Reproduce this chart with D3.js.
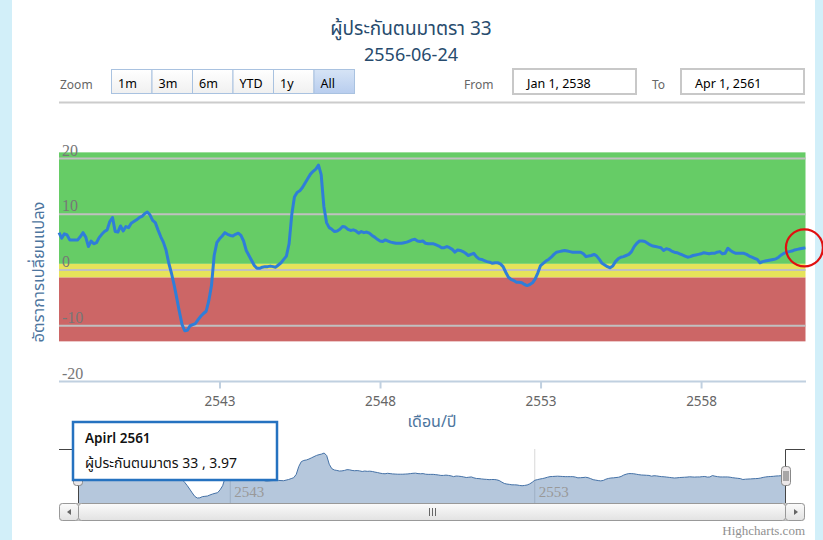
<!DOCTYPE html>
<html><head><meta charset="utf-8">
<script src="https://cdn.jsdelivr.net/npm/d3@7"></script>
<style>
body{margin:0;background:#d2eff9;overflow:hidden}
svg{display:block}
</style></head><body>
<svg id="c" width="823" height="540"></svg>
<script>
// ---------- data ----------
const titleText = "ผู้ประกันตนมาตรา 33";
const subtitleText = "2556-06-24";
const yTitleText = "อัตราการเปลี่ยนแปลง";
const xTitleText = "เดือน/ปี";
const startYear = 2538;           // series starts Jan 2538, monthly
const values = [
 6.7,5.7,6.5,6.3,5.4,5.4,5.4,5.4,6.0,6.7,5.9,4.2,
 5.2,4.7,4.9,5.8,6.4,6.9,7.2,8.7,9.4,6.9,6.8,7.9,
 7.0,7.8,7.6,8.4,8.7,9.0,9.4,9.6,10.1,10.4,9.9,8.9,
 8.5,7.2,6.0,5.0,3.6,1.3,-0.5,-2.6,-5.0,-7.5,-9.8,-10.9,
 -10.8,-10.0,-9.8,-9.6,-8.9,-8.3,-7.8,-7.4,-5.5,-2.8,2.6,4.9,
 5.6,6.1,6.7,6.4,6.2,6.1,6.4,6.6,6.2,5.2,3.5,2.6,
 1.7,0.8,0.3,0.3,0.5,0.6,0.6,0.7,0.6,0.5,0.9,1.3,
 1.9,2.5,4.7,9.9,13.1,13.9,14.2,14.8,15.6,16.4,17.2,17.7,
 18.1,18.8,17.1,11.4,8.5,7.6,7.3,6.9,7.0,7.3,7.8,7.7,
 7.3,7.1,7.2,7.0,6.6,6.9,6.7,6.8,6.6,6.2,5.9,5.5,
 5.2,5.1,5.4,5.2,5.0,4.9,4.8,4.8,4.8,4.9,5.0,5.2,
 5.4,5.5,5.2,5.1,5.2,4.8,4.7,4.7,4.7,4.5,4.3,4.0,
 4.0,4.2,4.0,3.7,3.2,3.6,3.5,3.3,3.0,2.6,2.8,3.0,
 2.4,2.0,1.9,1.7,1.5,1.4,1.2,1.3,1.3,1.1,0.6,-0.4,
 -1.3,-1.7,-1.9,-2.2,-2.2,-2.3,-2.6,-2.8,-2.6,-2.3,-1.6,-0.5,
 0.8,1.2,1.6,1.9,2.3,2.8,3.2,3.3,3.4,3.5,3.4,3.3,
 3.2,3.2,3.2,3.2,2.9,2.4,2.5,2.6,2.8,2.5,1.9,1.2,
 0.9,0.6,0.4,0.7,1.5,2.0,2.3,2.4,2.6,2.8,3.3,4.2,
 4.8,5.2,5.2,5.1,4.8,4.5,4.3,4.2,4.1,4.0,3.5,3.8,
 3.7,3.4,3.2,3.1,2.9,2.7,2.5,2.3,2.4,2.6,2.7,2.8,
 2.9,3.1,3.0,2.9,3.0,3.0,3.2,3.3,2.9,3.0,3.9,3.5,
 3.2,3.0,3.0,3.0,3.0,2.8,2.5,2.3,2.1,1.9,1.3,1.5,
 1.6,1.7,1.8,1.9,2.0,2.3,2.7,3.0,3.2,3.3,3.4,3.6,
 3.7,3.8,3.9,3.97
];
const yTicks = [20, 10, 0, -10, -20];
const xTicks = [2543, 2548, 2553, 2558];
const navTicks = [2543, 2553];
const bandFrom = [1.1, -1.35, -12.8];
const bandTo   = [21.1, 1.1, -1.35];
const zoomButtons = ["1m", "3m", "6m", "YTD", "1y", "All"];
const fromText = "Jan 1, 2538";
const toText = "Apr 1, 2561";
const tooltipLines = ["Apirl 2561", "ผู้ประกันตนมาตร 33 , 3.97"];
const creditText = "Highcharts.com";

// ---------- styles ----------
const thai = "'Noto Sans Thai','Noto Sans','DejaVu Sans',sans-serif";
const serif = "'Liberation Serif','DejaVu Serif',serif";
const bandColors = ["#66cc66", "#e6e35a", "#cc6666"];
const lineColor = "#2f7ed8";

const svg = d3.select("#c");
svg.append("rect").attr("x", 12).attr("y", 0).attr("width", 803).attr("height", 540).attr("fill", "#fff");

const dates = values.map((v, i) => startYear + i / 12);
const x = d3.scaleLinear().domain([startYear, dates[dates.length - 1]]).range([59, 805.4]);
const y = d3.scaleLinear().domain([-20, 20]).range([381.5, 158.5]);

// titles
svg.append("text").attr("x", 411).attr("y", 35).attr("text-anchor", "middle")
  .attr("font-family", thai).attr("font-size", 19).attr("fill", "#274b6d").text(titleText);
svg.append("text").attr("x", 411).attr("y", 61).attr("text-anchor", "middle")
  .attr("font-family", thai).attr("font-size", 18).attr("fill", "#274b6d").text(subtitleText);

// range selector
svg.append("text").attr("x", 60).attr("y", 89).attr("font-family", thai).attr("font-size", 12).attr("fill", "#666").text("Zoom");
const defs = svg.append("defs");
const g1 = defs.append("linearGradient").attr("id", "btn").attr("x1", 0).attr("y1", 0).attr("x2", 0).attr("y2", 1);
g1.append("stop").attr("offset", 0).attr("stop-color", "#ffffff");
g1.append("stop").attr("offset", 1).attr("stop-color", "#f0f0f0");
const g2 = defs.append("linearGradient").attr("id", "btnSel").attr("x1", 0).attr("y1", 0).attr("x2", 0).attr("y2", 1);
g2.append("stop").attr("offset", 0).attr("stop-color", "#d6e4f6");
g2.append("stop").attr("offset", 1).attr("stop-color", "#b8cdee");
const bx = d3.scaleBand().domain(zoomButtons).range([111, 354]);
zoomButtons.forEach((b, i) => {
  const sel = b === "All";
  svg.append("rect").attr("x", bx(b) + 0.5).attr("y", 69.5).attr("width", bx.bandwidth()).attr("height", 24)
    .attr("fill", sel ? "url(#btnSel)" : "url(#btn)").attr("stroke", "#a9c2e0").attr("stroke-width", 1);
  svg.append("text").attr("x", bx(b) + 7).attr("y", 88).attr("font-family", thai).attr("font-size", 12.5)
    .attr("fill", "#000").text(b);
});
svg.append("text").attr("x", 464).attr("y", 89).attr("font-family", thai).attr("font-size", 12).attr("fill", "#666").text("From");
svg.append("rect").attr("x", 513).attr("y", 69).attr("width", 123).attr("height", 25).attr("fill", "#fff").attr("stroke", "#c8c8c8").attr("stroke-width", 2);
svg.append("text").attr("x", 527).attr("y", 88).attr("font-family", thai).attr("font-size", 12.5).attr("fill", "#000").text(fromText);
svg.append("text").attr("x", 652).attr("y", 89).attr("font-family", thai).attr("font-size", 12).attr("fill", "#666").text("To");
svg.append("rect").attr("x", 681).attr("y", 69).attr("width", 123).attr("height", 25).attr("fill", "#fff").attr("stroke", "#c8c8c8").attr("stroke-width", 2);
svg.append("text").attr("x", 695).attr("y", 88).attr("font-family", thai).attr("font-size", 12.5).attr("fill", "#000").text(toText);
svg.append("line").attr("x1", 59).attr("x2", 805).attr("y1", 102.5).attr("y2", 102.5).attr("stroke", "#cccccc").attr("stroke-width", 2);

// plot bands
bandFrom.forEach((f, i) => {
  svg.append("rect").attr("x", 59).attr("width", 746.5).attr("y", y(bandTo[i])).attr("height", y(f) - y(bandTo[i])).attr("fill", bandColors[i]);
});
// grid lines
yTicks.filter(t => t > -20).forEach(t => {
  svg.append("line").attr("x1", 59).attr("x2", 805.5).attr("y1", y(t)).attr("y2", y(t)).attr("stroke", "#c0c0c0").attr("stroke-width", 2);
});
// y labels
yTicks.forEach(t => {
  svg.append("text").attr("x", 62).attr("y", y(t) - 3).attr("font-family", serif).attr("font-size", 16).attr("fill", "#777").text(t);
});
// y title
svg.append("text").attr("transform", "translate(44,272) rotate(-90)").attr("text-anchor", "middle")
  .attr("font-family", thai).attr("font-size", 16.5).attr("fill", "#4d759e").text(yTitleText);

// x axis
const xAxis = d3.axisBottom(x).tickValues(xTicks).tickSize(7).tickFormat(d3.format("d"));
const ax = svg.append("g").attr("transform", "translate(0,381.5)").call(xAxis);
ax.select(".domain").attr("stroke", "#c0d0e0").attr("stroke-width", 2).attr("d", "M59,0H806");
ax.selectAll(".tick line").attr("stroke", "#c0d0e0").attr("stroke-width", 2);
ax.selectAll(".tick text").attr("font-family", thai).attr("font-size", 13.5).attr("fill", "#666").attr("dy", "1.1em");
svg.append("text").attr("x", 432).attr("y", 427).attr("text-anchor", "middle").attr("font-family", thai)
  .attr("font-size", 16).attr("fill", "#4d759e").text(xTitleText);

// main line
const line = d3.line().x((d, i) => x(dates[i])).y(d => y(d));
svg.append("path").datum(values).attr("d", line).attr("fill", "none").attr("stroke", lineColor)
  .attr("stroke-width", 3).attr("stroke-linejoin", "round");

// highlight circle on last point
const last = values.length - 1;
svg.append("circle").attr("cx", x(dates[last]) - 1).attr("cy", y(values[last])).attr("r", 18.5)
  .attr("fill", "none").attr("stroke", "#e01010").attr("stroke-width", 2.2);

// ---------- navigator ----------
const nx = d3.scaleLinear().domain([startYear, dates[last]]).range([78, 786]);
const ny = d3.scaleLinear().domain(d3.extent(values)).range([498, 453]);
navTicks.forEach(t => {
  svg.append("line").attr("x1", nx(t)).attr("x2", nx(t)).attr("y1", 449).attr("y2", 503).attr("stroke", "#d8d8d8").attr("stroke-width", 1);
});
const area = d3.area().x((d, i) => nx(dates[i])).y0(503).y1(d => ny(d));
svg.append("path").datum(values).attr("d", area).attr("fill", "rgba(69,114,167,0.4)");
svg.append("path").datum(values).attr("d", d3.line().x((d, i) => nx(dates[i])).y(d => ny(d)))
  .attr("fill", "none").attr("stroke", "#4572a7").attr("stroke-width", 1);
navTicks.forEach(t => {
  svg.append("text").attr("x", nx(t) + 4).attr("y", 497).attr("font-family", serif).attr("font-size", 15).attr("fill", "#999").text(t);
});
// outline
svg.append("path").attr("d", "M59,449.5H78.5V503M785.5,503V449.5H805").attr("fill", "none").attr("stroke", "#444").attr("stroke-width", 1);
// handles
[78, 786].forEach(hx => {
  svg.append("rect").attr("x", hx - 4.5).attr("y", 466.5).attr("width", 9).attr("height", 19).attr("rx", 3)
    .attr("fill", "#ebe7e8").attr("stroke", "#888").attr("stroke-width", 1);
  [-1.5, 0.5, 2.5].forEach(o => svg.append("line").attr("x1", hx + o - 0.5).attr("x2", hx + o - 0.5).attr("y1", 471).attr("y2", 481).attr("stroke", "#666"));
});
// scrollbar
const g3 = defs.append("linearGradient").attr("id", "sb").attr("x1", 0).attr("y1", 0).attr("x2", 0).attr("y2", 1);
g3.append("stop").attr("offset", 0).attr("stop-color", "#fbfbfb");
g3.append("stop").attr("offset", 1).attr("stop-color", "#e2e2e2");
svg.append("rect").attr("x", 59.5).attr("y", 503.5).attr("width", 745).attr("height", 17).attr("rx", 3).attr("fill", "#eeeeee").attr("stroke", "#bbb");
svg.append("rect").attr("x", 78.5).attr("y", 503.5).attr("width", 707).attr("height", 17).attr("rx", 3).attr("fill", "url(#sb)").attr("stroke", "#999");
[-3, 0, 3].forEach(o => svg.append("line").attr("x1", 432.5 + o).attr("x2", 432.5 + o).attr("y1", 508).attr("y2", 516).attr("stroke", "#666"));
svg.append("rect").attr("x", 59.5).attr("y", 503.5).attr("width", 19).attr("height", 17).attr("rx", 3).attr("fill", "url(#sb)").attr("stroke", "#999");
svg.append("rect").attr("x", 785.5).attr("y", 503.5).attr("width", 19).attr("height", 17).attr("rx", 3).attr("fill", "url(#sb)").attr("stroke", "#999");
svg.append("path").attr("d", "M71,509L67,512L71,515Z").attr("fill", "#666");
svg.append("path").attr("d", "M794,509L798,512L794,515Z").attr("fill", "#666");

// tooltip
svg.append("rect").attr("x", 73).attr("y", 422).attr("width", 204).attr("height", 58).attr("fill", "#fff")
  .attr("stroke", "#2572c0").attr("stroke-width", 2.5);
svg.append("text").attr("x", 85).attr("y", 443).attr("font-family", thai).attr("font-size", 13.5).attr("font-weight", 600).attr("fill", "#111").text(tooltipLines[0]);
svg.append("text").attr("x", 85).attr("y", 468).attr("font-family", thai).attr("font-size", 14).attr("fill", "#111").text(tooltipLines[1]);

// credits
svg.append("text").attr("x", 805).attr("y", 535).attr("text-anchor", "end").attr("font-family", serif)
  .attr("font-size", 13).attr("fill", "#909090").text(creditText);
</script>
</body></html>
